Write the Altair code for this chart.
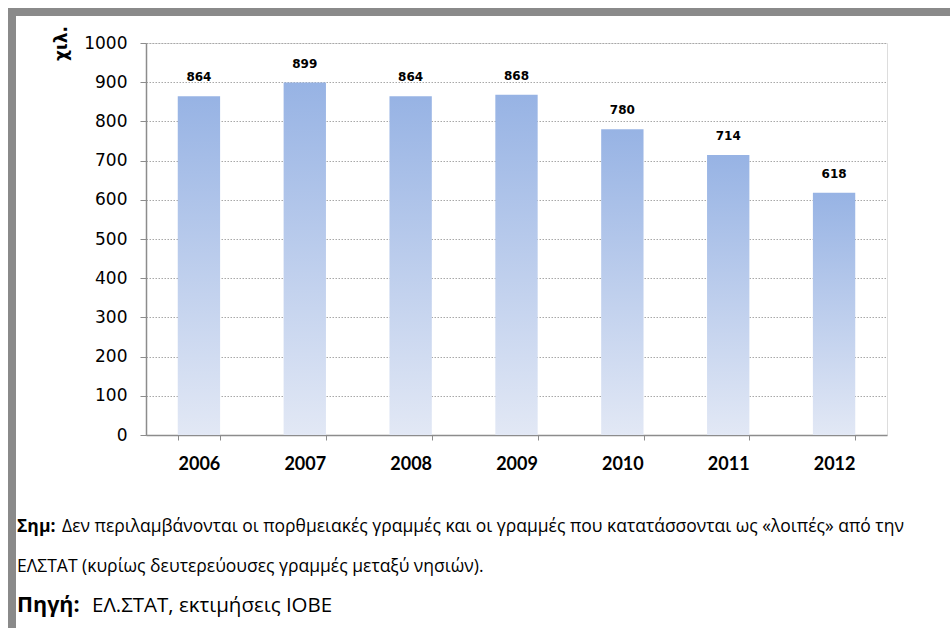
import altair as alt
import pandas as pd

years = ["2006", "2007", "2008", "2009", "2010", "2011", "2012"]
values = [864, 899, 864, 868, 780, 714, 618]
y_ticks = [0, 100, 200, 300, 400, 500, 600, 700, 800, 900, 1000]

note_bold = "Σημ:"
note_line1 = "Δεν περιλαμβάνονται οι πορθμειακές γραμμές και οι γραμμές που κατατάσσονται ως «λοιπές» από την"
note_line2 = "ΕΛΣΤΑΤ (κυρίως δευτερεύουσες γραμμές μεταξύ νησιών)."
source_bold = "Πηγή:"
source_text = "ΕΛ.ΣΤΑΤ, εκτιμήσεις ΙΟΒΕ"

df = pd.DataFrame({"year": years, "value": values})

W, H = 741, 392
PL, PT, PR, PB = 146, 43, 63, 193
AXIS_FONT = "DejaVu Sans"
XLAB_FONT = "Lato"
NOTE_FONT = "Open Sans"

x_enc = alt.X("year:N", sort=years, title=None,
              scale=alt.Scale(paddingInner=0.6, paddingOuter=0.3),
              axis=alt.Axis(labelAngle=0, labelFont=XLAB_FONT, labelFontSize=18,
                            labelFontWeight="bold", labelColor="#000000", labelPadding=15,
                            tickBand="extent", tickSize=5, tickColor="#8c8c8c",
                            domainColor="#8c8c8c", domainWidth=1.5, grid=False))
y_enc = alt.Y("value:Q", title="χιλ.",
              scale=alt.Scale(domain=[0, 1000], nice=False),
              axis=alt.Axis(values=y_ticks, tickCount=len(y_ticks) + 1, format="d",
                            labelOverlap=False,
                            labelFont=AXIS_FONT, labelFontSize=17,
                            labelColor="#000000", labelPadding=13, tickSize=6,
                            tickColor="#8c8c8c", domainColor="#8c8c8c", domainWidth=1.5,
                            grid=True, gridColor="#a8a8a8", gridDash=[1.5, 1.5], gridWidth=1,
                            titleFont=AXIS_FONT, titleFontSize=17, titleFontWeight="bold",
                            titleColor="#000000", titleAngle=270, titleAlign="center",
                            titleBaseline="middle", titleX=-85, titleY=0))

bars = alt.Chart(df).mark_bar(
    color=alt.Gradient(gradient="linear",
                       stops=[alt.GradientStop(color="#97b3e4", offset=0),
                              alt.GradientStop(color="#e2e8f5", offset=1)],
                       x1=0, x2=0, y1=0, y2=1)
).encode(x=x_enc, y=y_enc)

labels = alt.Chart(df).mark_text(
    dy=-19, font=AXIS_FONT, fontSize=12, fontWeight="bold", color="#000000"
).encode(x=x_enc, y=y_enc, text="value:Q")

def txt(s, x, y, size, weight="normal"):
    return alt.Chart(pd.DataFrame({"t": [s]})).mark_text(
        align="left", baseline="middle", font=NOTE_FONT, fontSize=size,
        fontWeight=weight, color="#000000"
    ).encode(x=alt.value(x), y=alt.value(y), text="t:N")

notes = (txt(note_bold, -129, 484, 17.5, "bold")
         + txt(note_line1, -84, 484, 17.5)
         + txt(note_line2, -129, 524, 17.5)
         + txt(source_bold, -129, 563, 21.5, "bold")
         + txt(source_text, -54, 563, 20.5))

frame_df = pd.DataFrame({"k": [0]})
top_rule = alt.Chart(frame_df).mark_rule(color="#8a8a8a", strokeWidth=8).encode(
    x=alt.value(-138), x2=alt.value(804), y=alt.value(-31))
left_rule = alt.Chart(frame_df).mark_rule(color="#8a8a8a", strokeWidth=8).encode(
    x=alt.value(-134), y=alt.value(-35), y2=alt.value(585))

chart = alt.layer(bars, labels, notes, top_rule, left_rule).properties(
    width=W, height=H,
    autosize=alt.AutoSizeParams(type="none"),
    padding={"left": PL, "top": PT, "right": PR, "bottom": PB},
).configure_view(stroke=None).configure(background="#ffffff")

chart.save("out.html", embed_options={"renderer": "svg", "actions": False})
